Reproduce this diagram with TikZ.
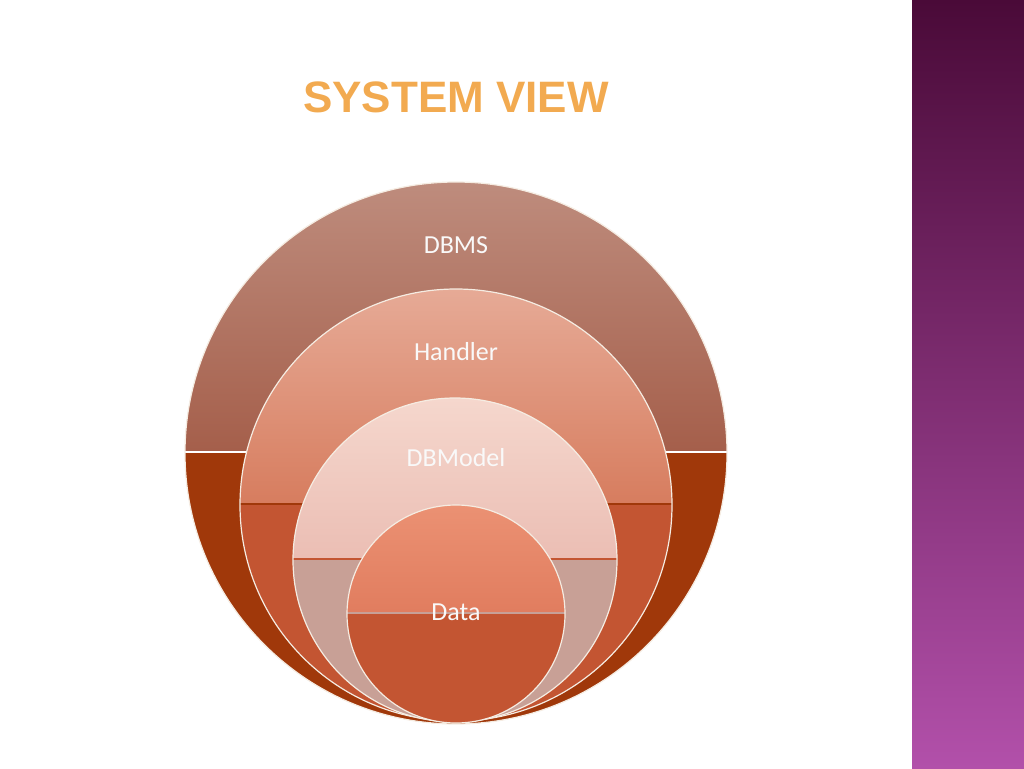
\documentclass[tikz,border=0pt]{standalone}
\usepackage{fontspec}
\setmainfont{Carlito}
\newfontfamily\titlefont{Liberation Sans}
\begin{document}
\begin{tikzpicture}[x=1pt,y=-1pt,
  lbl/.style={text=white!95!gray,font=\fontsize{26}{30}\selectfont},
  ring/.style={draw=white!85!brown,line width=1.2pt}]
\useasboundingbox (0,0) rectangle (1024,768);
\fill[white] (0,0) rectangle (1024,768);
\shade[top color={rgb,255:red,74;green,10;blue,56},bottom color={rgb,255:red,178;green,80;blue,170}] (912,0) rectangle (1024,768);
\node[font=\titlefont\bfseries\fontsize{44}{48}\selectfont,text={rgb,255:red,242;green,170;blue,80}] (title) at (456,97) {SYSTEM VIEW};
% outer
\definecolor{ou}{RGB}{190,140,125}\definecolor{oum}{RGB}{165,95,75}\definecolor{ol}{RGB}{160,56,10}
\definecolor{hu}{RGB}{230,170,150}\definecolor{hum}{RGB}{215,125,95}\definecolor{hl}{RGB}{195,85,50}
\definecolor{du}{RGB}{245,215,205}\definecolor{dum}{RGB}{235,190,180}\definecolor{dl}{RGB}{200,160,150}
\definecolor{au}{RGB}{235,145,115}\definecolor{aum}{RGB}{225,125,95}\definecolor{al}{RGB}{195,85,50}
\newcommand\glossc[7]{%
 \begin{scope}
 \clip (#1,#2) circle (#3);
 \fill[#6] (#1-#3,#2) rectangle (#1+#3,#2+#3);
 \shade[top color=#4,bottom color=#5] (#1-#3,#2-#3) rectangle (#1+#3,#2-3);
 \end{scope}
 \draw[ring] (#1,#2) circle (#3);
 \node[lbl] at (#1,#2-#3+#7) {\strut};}
\glossc{456}{453}{271}{ou}{oum}{ol}{60}
\glossc{456}{505}{216}{hu}{hum}{hl}{60}
\glossc{455}{560}{162}{du}{dum}{dl}{60}
\glossc{456}{614}{109}{au}{aum}{al}{60}
\node[lbl] (dbms) at (456,245) {DBMS};
\node[lbl] (handler) at (456,352) {Handler};
\node[lbl] (dbmodel) at (456,458) {DBModel};
\node[lbl] (data) at (456,612) {Data};
\end{tikzpicture}
\end{document}
